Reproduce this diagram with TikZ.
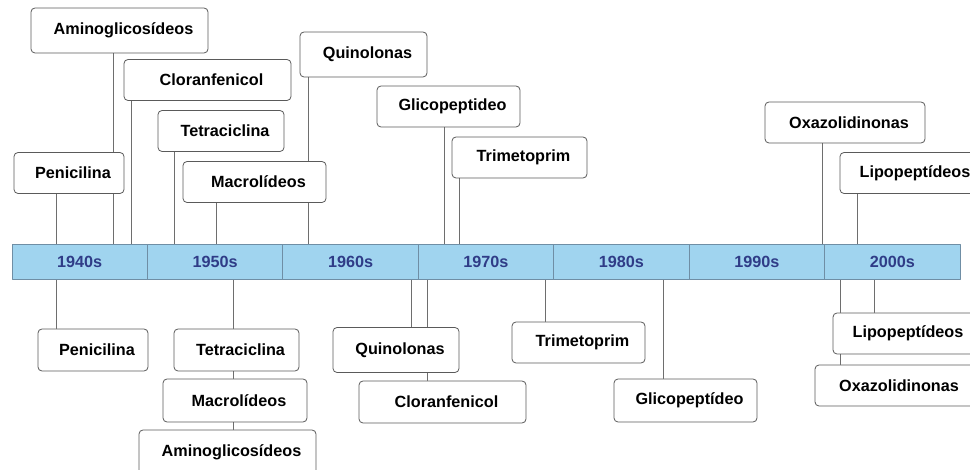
\documentclass[tikz,border=0pt]{standalone}
\usepackage{fontspec}
\setmainfont{Liberation Sans}
\usetikzlibrary{positioning,backgrounds}
\definecolor{barfill}{HTML}{A0D4EF}
\definecolor{barline}{HTML}{6F8EA5}
\definecolor{bartext}{HTML}{2F3C87}
\definecolor{boxline}{HTML}{5A5A5A}
\definecolor{linkline}{HTML}{6E6E6E}
\newcommand{\labelfont}{\fontsize{16.2}{18}\selectfont\bfseries}

\begin{document}
\begin{tikzpicture}[x=1pt,y=-1pt,line cap=round,line join=round,
  decade/.style={draw=barline,line width=0.9pt,fill=barfill,text=bartext,font=\labelfont,
    minimum width=135.43pt,minimum height=35pt,inner sep=0pt,outer sep=0pt},
  drug/.style={draw=boxline,line width=0.8pt,fill=white,rounded corners=4pt,font=\labelfont,
    minimum height=41pt,inner sep=0pt,outer sep=0pt,execute at begin node=\hspace*{8pt}},
  link/.style={draw=linkline,line width=0.8pt}]
  \useasboundingbox (0,0) rectangle (970,470);
  \clip (0,0) rectangle (970,470);

  % time bar
  \node[decade] (d1940) at (79.7,261.5) {1940s};
  \node[decade,right=0pt of d1940] (d1950) {1950s};
  \node[decade,right=0pt of d1950] (d1960) {1960s};
  \node[decade,right=0pt of d1960] (d1970) {1970s};
  \node[decade,right=0pt of d1970] (d1980) {1980s};
  \node[decade,right=0pt of d1980] (d1990) {1990s};
  \node[decade,right=0pt of d1990] (d2000) {2000s};

  % upper boxes
  \node[drug,minimum width=177pt,minimum height=45pt] (tAmino) at (119.5,30.5) {Aminoglicosídeos};
  \node[drug,minimum width=167pt] (tClor) at (207.5,80) {Cloranfenicol};
  \node[drug,minimum width=126pt] (tTetra) at (221,131) {Tetraciclina};
  \node[drug,minimum width=110pt] (tPen) at (69,173) {Penicilina};
  \node[drug,minimum width=143pt] (tMacro) at (254.5,182) {Macrolídeos};
  \node[drug,minimum width=127pt,minimum height=45pt] (tQuino) at (363.5,54.5) {Quinolonas};
  \node[drug,minimum width=143pt] (tGlico) at (448.5,106.5) {Glicopeptideo};
  \node[drug,minimum width=135pt] (tTrim) at (519.5,157.5) {Trimetoprim};
  \node[drug,minimum width=160pt] (tOxa) at (845,122.5) {Oxazolidinonas};
  \node[drug,minimum width=142pt] (tLipo) at (911,173) {Lipopeptídeos};

  % lower boxes
  \node[drug,minimum width=110pt,minimum height=42pt] (bPen) at (93,350) {Penicilina};
  \node[drug,minimum width=125pt,minimum height=42pt] (bTetra) at (236.5,350) {Tetraciclina};
  \node[drug,minimum width=144pt,minimum height=43pt] (bMacro) at (235,400.5) {Macrolídeos};
  \node[drug,minimum width=177pt,minimum height=44pt] (bAmino) at (227.5,452) {Aminoglicosídeos};
  \node[drug,minimum width=126pt,minimum height=45pt] (bQuino) at (396,350) {Quinolonas};
  \node[drug,minimum width=167pt,minimum height=42pt] (bClor) at (442.5,402) {Cloranfenicol};
  \node[drug,minimum width=133pt] (bTrim) at (578.5,342.5) {Trimetoprim};
  \node[drug,minimum width=143pt,minimum height=43pt] (bGlico) at (685.5,400.5) {Glicopeptídeo};
  \node[drug,minimum width=160pt] (bOxa) at (895,385.5) {Oxazolidinonas};
  \node[drug,minimum width=142pt] (bLipo) at (904,333.5) {Lipopeptídeos};

  \begin{scope}[on background layer]
    % connectors above the bar
    \draw[link] (tPen.south -| 56,0) -- (56,0 |- d1940.north);
    \draw[link] (tAmino.south -| 113,0) -- (113,0 |- d1940.north);
    \draw[link] (tClor.south -| 131,0) -- (131,0 |- d1940.north);
    \draw[link] (tTetra.south -| 174,0) -- (174,0 |- d1950.north);
    \draw[link] (tMacro.south -| 216,0) -- (216,0 |- d1950.north);
    \draw[link] (tQuino.south -| 308,0) -- (308,0 |- d1960.north);
    \draw[link] (tGlico.south -| 444,0) -- (444,0 |- d1970.north);
    \draw[link] (tTrim.south -| 459,0) -- (459,0 |- d1970.north);
    \draw[link] (tOxa.south -| 822,0) -- (822,0 |- d1990.north);
    \draw[link] (tLipo.south -| 857,0) -- (857,0 |- d2000.north);

    % connectors below the bar
    \draw[link] (56,0 |- d1940.south) -- (bPen.north -| 56,0);
    \draw[link] (233,0 |- d1950.south) -- (bTetra.north -| 233,0);
    \draw[link] (bTetra.south -| 233,0) -- (bMacro.north -| 233,0);
    \draw[link] (bMacro.south -| 233,0) -- (bAmino.north -| 233,0);
    \draw[link] (411,0 |- d1960.south) -- (bQuino.north -| 411,0);
    \draw[link] (427,0 |- d1970.south) -- (bClor.north -| 427,0);
    \draw[link] (545,0 |- d1970.south) -- (bTrim.north -| 545,0);
    \draw[link] (663,0 |- d1980.south) -- (bGlico.north -| 663,0);
    \draw[link] (840,0 |- d2000.south) -- (bOxa.north -| 840,0);
    \draw[link] (874,0 |- d2000.south) -- (bLipo.north -| 874,0);
  \end{scope}
\end{tikzpicture}
\end{document}
